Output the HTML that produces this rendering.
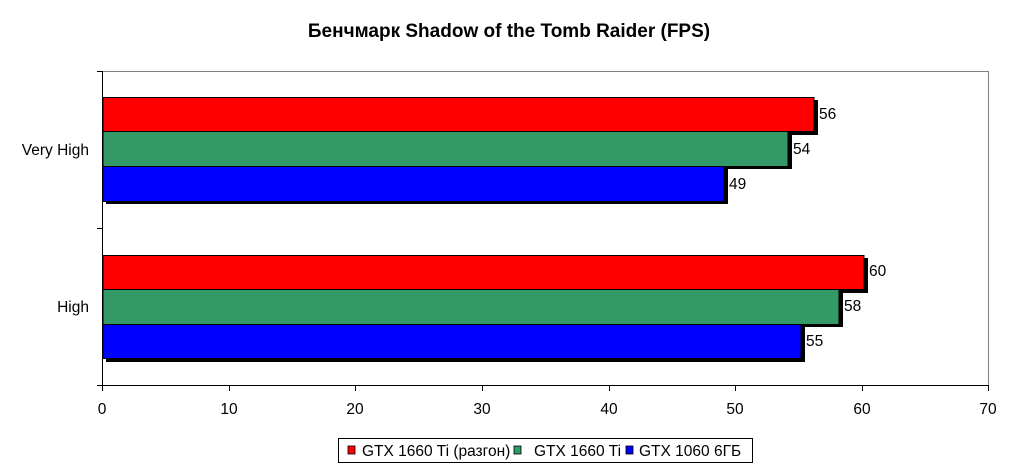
<!DOCTYPE html>
<html><head><meta charset="utf-8"><style>body{margin:0;background:#fff}svg{display:block}text{font-family:"Liberation Sans","Noto Sans CJK SC",sans-serif}</style></head><body>
<svg width="1018" height="474" viewBox="0 0 1018 474">
<text x="509" y="37" text-anchor="middle" font-size="19" font-weight="bold">Бенчмарк Shadow of the Tomb Raider (FPS)</text>
<line x1="102" y1="71.5" x2="989" y2="71.5" stroke="#808080"/>
<line x1="988.5" y1="71" x2="988.5" y2="385" stroke="#808080"/>
<g stroke="#000">
<line x1="102.5" y1="71" x2="102.5" y2="386"/>
<line x1="102" y1="385.5" x2="989" y2="385.5"/>
<line x1="97" y1="71.5" x2="102" y2="71.5"/>
<line x1="97" y1="228.5" x2="102" y2="228.5"/>
<line x1="97" y1="385.5" x2="102" y2="385.5"/>
</g>
<g stroke="#000">
<line x1="102.5" y1="385" x2="102.5" y2="391"/><line x1="229.5" y1="385" x2="229.5" y2="391"/><line x1="355.5" y1="385" x2="355.5" y2="391"/><line x1="482.5" y1="385" x2="482.5" y2="391"/><line x1="609.5" y1="385" x2="609.5" y2="391"/><line x1="735.5" y1="385" x2="735.5" y2="391"/><line x1="862.5" y1="385" x2="862.5" y2="391"/><line x1="988.5" y1="385" x2="988.5" y2="391"/>
</g>
<g font-size="15.5" text-anchor="middle">
<text x="102" y="414">0</text><text x="229" y="414">10</text><text x="355" y="414">20</text><text x="482" y="414">30</text><text x="609" y="414">40</text><text x="735" y="414">50</text><text x="862" y="414">60</text><text x="988" y="414">70</text>
</g>
<g font-size="15.5" text-anchor="end">
<text x="89" y="155">Very High</text><text x="89" y="312">High</text>
</g>
<g fill="#000">
<rect x="106" y="100" width="712" height="35"/>
<rect x="106" y="134" width="686" height="35"/>
<rect x="106" y="169" width="622" height="35"/>
<rect x="106" y="258" width="762" height="35"/>
<rect x="106" y="292" width="737" height="35"/>
<rect x="106" y="327" width="699" height="35"/>
</g>
<g stroke="#000" stroke-width="1">
<rect x="103" y="97.5" width="711" height="34" fill="#ff0000"/>
<rect x="103" y="131.5" width="685" height="35" fill="#339966"/>
<rect x="103" y="166.5" width="621" height="35" fill="#0000ff"/>
<rect x="103" y="255.5" width="761" height="34" fill="#ff0000"/>
<rect x="103" y="289.5" width="736" height="35" fill="#339966"/>
<rect x="103" y="324.5" width="698" height="34" fill="#0000ff"/>
</g>
<g font-size="15.5">
<text x="819" y="119">56</text><text x="793" y="154">54</text><text x="729" y="189">49</text>
<text x="869" y="276">60</text><text x="844" y="311">58</text><text x="806" y="346">55</text>
</g>
<rect x="338.5" y="438.5" width="414" height="24" fill="#fff" stroke="#000"/>
<rect x="348" y="446" width="7" height="8" fill="#ff0000" stroke="#000" stroke-width="0.8"/>
<rect x="514" y="446" width="7" height="8" fill="#339966" stroke="#000" stroke-width="0.8"/>
<rect x="626" y="446" width="7" height="8" fill="#0000ff" stroke="#000" stroke-width="0.8"/>
<g font-size="15.5">
<text x="362" y="456">GTX 1660 Ti (разгон)</text>
<text x="534" y="456">GTX 1660 Ti</text>
<text x="639" y="456">GTX 1060 6ГБ</text>
</g>
</svg>
</body></html>
